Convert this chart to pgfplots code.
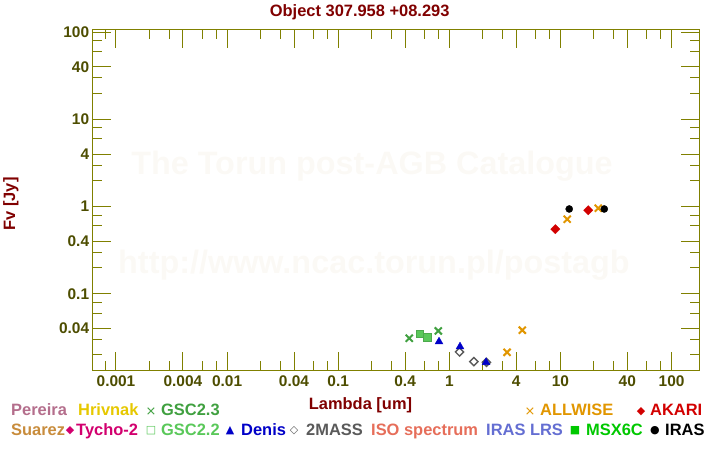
\documentclass[border=0pt]{standalone}
\usepackage{pgfplots}
\pgfplotsset{compat=1.18}
\usepackage{fontspec}
\setmainfont{Liberation Sans}
\newfontfamily\symfont{DejaVu Sans}
\definecolor{axiscol}{RGB}{128,128,0}
\definecolor{ticktext}{RGB}{77,77,0}
\definecolor{darkred}{RGB}{128,0,0}
\definecolor{wm}{RGB}{251,249,245}
\definecolor{cPereira}{RGB}{180,110,140}
\definecolor{cHrivnak}{RGB}{230,200,0}
\definecolor{cGSCa}{RGB}{64,160,64}
\definecolor{cSuarez}{RGB}{200,140,60}
\definecolor{cTycho}{RGB}{210,0,110}
\definecolor{cGSCb}{RGB}{90,200,90}
\definecolor{cDenis}{RGB}{0,0,200}
\definecolor{cMASS}{RGB}{90,90,90}
\definecolor{cISO}{RGB}{230,110,90}
\definecolor{cLRS}{RGB}{100,110,210}
\definecolor{cMSX}{RGB}{0,200,0}
\definecolor{cWISE}{RGB}{225,150,0}
\definecolor{cAKARI}{RGB}{210,0,0}
\newcommand{\lf}{\fontsize{16.5}{18}\selectfont\bfseries}
\newcommand{\symf}{\fontsize{11}{12}\selectfont\symfont}
\newcommand{\symx}{\fontsize{13}{14}\selectfont\symfont}
\begin{document}
\begin{tikzpicture}[x=1bp,y=1bp]
\path[use as bounding box] (0,0) rectangle (720,450);
% watermark
\node[anchor=base, text=wm, font=\fontsize{32.5}{34}\selectfont\bfseries, inner sep=0pt] at (372,275) {The Torun post-AGB Catalogue};
\node[anchor=base west, text=wm, font=\fontsize{32.5}{34}\selectfont\bfseries, inner sep=0pt] at (118,176) {http://www.ncac.torun.pl/postagb};
\begin{axis}[
  at={(92.3bp,79bp)}, anchor=south west,
  scale only axis, width=607bp, height=341.7bp,
  xmode=log, ymode=log,
  xmin=0.000612, xmax=177.8, ymin=0.01305, ymax=108,
  axis line style={color=axiscol, line width=1bp},
  every tick/.style={color=axiscol, line width=1bp},
  tick align=inside,
  major tick length=18.5bp, minor tick length=9.5bp,
  xtick={0.001,0.004,0.01,0.04,0.1,0.4,1,4,10,40,100},
  xticklabels={0.001,0.004,0.01,0.04,0.1,0.4,1,4,10,40,100},
  minor xtick={0.0008,0.002,0.003,0.006,0.008,0.02,0.03,0.06,0.08,0.2,0.3,0.6,0.8,2,3,6,8,20,30,60,80},
  ytick={0.04,0.1,0.4,1,4,10,40,100},
  yticklabels={0.04,0.1,0.4,1,4,10,40,100},
  minor ytick={0.02,0.03,0.06,0.08,0.2,0.3,0.6,0.8,2,3,6,8,20,30,60,80},
  ticklabel style={font=\fontsize{15.5}{16}\selectfont\bfseries, text=ticktext, inner sep=0pt},
  xticklabel style={yshift=-5bp},
  yticklabel style={xshift=-3bp},
]
% 2MASS
\addplot[only marks, mark=square, mark size=2.9bp, mark options={rotate=45, draw=cMASS, line width=1.4bp, fill=white}] coordinates {(1.235,0.0216) (1.662,0.0167) (2.159,0.0164)};
% GSC2.3
\addplot[only marks, mark=x, mark size=5bp, mark options={draw=cGSCa, line width=2bp}] coordinates {(0.436,0.031) (0.796,0.0376)};
% GSC2.2
\addplot[only marks, mark=square*, mark size=3.6bp, mark options={draw=cGSCb!85!black, fill=cGSCb, line width=0.6bp}] coordinates {(0.545,0.0347) (0.634,0.0318)};
% Denis
\addplot[only marks, mark=triangle*, mark size=4.6bp, mark options={draw=cDenis, fill=cDenis, line width=0.3bp}] coordinates {(0.808,0.0283) (1.248,0.0248) (2.14,0.0164)};
% ALLWISE
\addplot[only marks, mark=x, mark size=5bp, mark options={draw=cWISE, line width=2bp}] coordinates {(3.31,0.0214) (4.54,0.0383) (11.5,0.717) (21.9,0.96)};
% AKARI
\addplot[only marks, mark=square*, mark size=3.3bp, mark options={rotate=45, draw=cAKARI, fill=cAKARI, line width=0.3bp}] coordinates {(9.0,0.551) (17.8,0.909)};
% IRAS
\addplot[only marks, mark=*, mark size=3.6bp, mark options={draw=black, fill=black, line width=0.3bp}] coordinates {(12.0,0.94) (24.8,0.94)};
\end{axis}
% title and labels
\node[anchor=base, text=darkred, font=\lf, inner sep=0pt] at (359.7,433.3) {Object 307.958 +08.293};
\node[anchor=base, text=darkred, font=\lf, inner sep=0pt] at (360.5,40.7) {Lambda [um]};
\node[anchor=base, rotate=90, text=darkred, font=\lf, inner sep=0pt] at (15,246) {Fv [Jy]};
% legend row 1
\node[anchor=base west, text=cPereira, font=\lf, inner sep=0pt] at (11,34) {Pereira};
\node[anchor=base west, text=cHrivnak, font=\lf, inner sep=0pt] at (78,34) {Hrivnak};
\node[text=cGSCa, font=\symx, inner sep=0pt] at (151,38.5) {×};
\node[anchor=base west, text=cGSCa, font=\lf, inner sep=0pt] at (161,34) {GSC2.3};
\node[text=cWISE, font=\symx, inner sep=0pt] at (530,38.5) {×};
\node[anchor=base west, text=cWISE, font=\lf, inner sep=0pt] at (540,34) {ALLWISE};
\node[text=cAKARI, font=\symf, inner sep=0pt] at (641,38.5) {◆};
\node[anchor=base west, text=cAKARI, font=\lf, inner sep=0pt] at (650,34) {AKARI};
% legend row 2
\node[anchor=base west, text=cSuarez, font=\lf, inner sep=0pt] at (11,14) {Suarez};
\node[text=cTycho, font=\symf, inner sep=0pt] at (70,19.5) {◆};
\node[anchor=base west, text=cTycho, font=\lf, inner sep=0pt] at (76,14) {Tycho-2};
\node[text=cGSCb, font=\symf, inner sep=0pt] at (151,19.5) {□};
\node[anchor=base west, text=cGSCb, font=\lf, inner sep=0pt] at (161,14) {GSC2.2};
\node[text=cDenis, font=\symf, inner sep=0pt] at (230,19.5) {▲};
\node[anchor=base west, text=cDenis, font=\lf, inner sep=0pt] at (241,14) {Denis};
\node[text=cMASS, font=\symf, inner sep=0pt] at (294,19.5) {◇};
\node[anchor=base west, text=cMASS, font=\lf, inner sep=0pt] at (306,14) {2MASS};
\node[anchor=base west, text=cISO, font=\lf, inner sep=0pt] at (371,14) {ISO spectrum};
\node[anchor=base west, text=cLRS, font=\lf, inner sep=0pt] at (486,14) {IRAS LRS};
\node[text=cMSX, font=\symf, inner sep=0pt] at (575,19.5) {■};
\node[anchor=base west, text=cMSX, font=\lf, inner sep=0pt] at (586,14) {MSX6C};
\node[text=black, font=\symf, inner sep=0pt] at (655,19.5) {●};
\node[anchor=base west, text=black, font=\lf, inner sep=0pt] at (665,14) {IRAS};
\end{tikzpicture}
\end{document}
